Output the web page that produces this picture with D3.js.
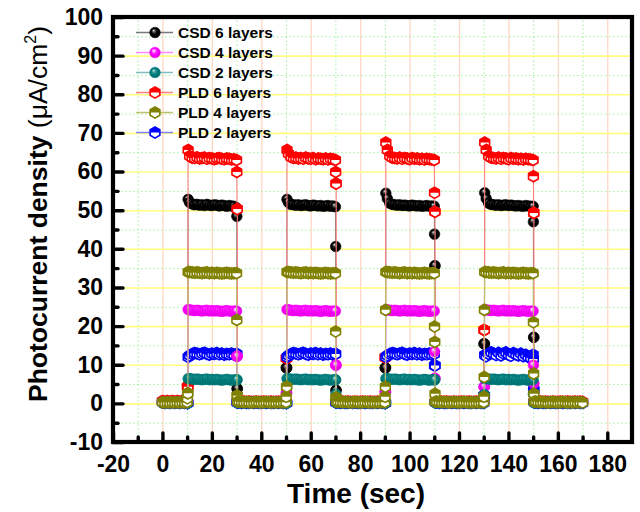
<!DOCTYPE html>
<html>
<head>
<meta charset="utf-8">
<script src="https://cdn.jsdelivr.net/npm/d3@7"></script>
<style>
  html, body { margin: 0; padding: 0; background: #ffffff; }
  svg { display: block; }
  text { font-family: "Liberation Sans", Arial, Helvetica, sans-serif; }
</style>
</head>
<body>
<svg id="chart" width="640" height="512"></svg>
<script>
// Sampling times (s): light switched on at 10, 50, 90, 130 s and off at 30, 70, 110, 150 s.
const time = [
  0,1,2,3,4,5,6,7,8,9,
  10,10.1,10.2,10.3,10.4,
  11,12,13,14,15,16,17,18,19,20,21,22,23,24,25,26,27,28,29,
  30,30.1,30.2,30.3,30.4,
  31,32,33,34,35,36,37,38,39,40,41,42,43,44,45,46,47,48,49,
  50,50.1,50.2,50.3,50.4,
  51,52,53,54,55,56,57,58,59,60,61,62,63,64,65,66,67,68,69,
  70,70.1,70.2,70.3,70.4,
  71,72,73,74,75,76,77,78,79,80,81,82,83,84,85,86,87,88,89,
  90,90.1,90.2,90.3,90.4,
  91,92,93,94,95,96,97,98,99,100,101,102,103,104,105,106,107,108,109,
  110,110.1,110.2,110.3,110.4,
  111,112,113,114,115,116,117,118,119,120,121,122,123,124,125,126,127,128,129,
  130,130.1,130.2,130.3,130.4,
  131,132,133,134,135,136,137,138,139,140,141,142,143,144,145,146,147,148,149,
  150,150.1,150.2,150.3,150.4,
  151,152,153,154,155,156,157,158,159,160,161,162,163,164,165,166,167,168,169,170
];

// Photocurrent density (µA/cm²) for each film.
const csd6 = [
  0.4,0.3,0.4,0.3,0.4,0.3,0.4,0.3,0.4,0.3,
  0.4,2.0,4.6,4.6,52.8,
  52.0,51.6,51.4,51.5,51.3,51.4,51.2,51.5,51.3,51.2,51.4,51.3,51.1,51.3,51.2,51.0,51.2,51.1,51.0,
  50.6,48.4,3.8,3.8,0.5,
  0.4,0.3,0.3,0.2,0.3,0.2,0.2,0.3,0.2,0.2,0.3,0.2,0.2,0.3,0.2,0.2,0.3,0.2,0.3,
  0.3,9.2,9.2,9.2,52.8,
  52.0,51.5,51.4,51.3,51.4,51.2,51.3,51.4,51.2,51.1,51.3,51.2,51.1,51.2,51.0,51.1,51.2,51.0,51.1,
  50.9,40.6,3.4,3.4,0.5,
  0.4,0.3,0.3,0.2,0.3,0.2,0.2,0.3,0.2,0.2,0.3,0.2,0.2,0.3,0.2,0.2,0.3,0.2,0.3,
  0.3,9.2,9.2,9.2,54.4,
  53.0,51.8,51.5,51.4,51.3,51.4,51.2,51.3,51.2,51.1,51.3,51.2,51.1,51.2,51.0,51.1,51.2,51.0,51.1,
  51.0,43.8,35.6,35.6,0.5,
  0.4,0.3,0.3,0.2,0.3,0.2,0.2,0.3,0.2,0.2,0.3,0.2,0.2,0.3,0.2,0.2,0.3,0.2,0.3,
  0.3,15.4,15.4,15.4,54.5,
  53.0,51.8,51.5,51.4,51.3,51.4,51.2,51.3,51.4,51.2,51.3,51.2,51.1,51.2,51.1,51.0,51.2,51.1,51.0,
  51.0,47.0,17.1,17.1,0.5,
  0.4,0.3,0.3,0.2,0.3,0.2,0.2,0.3,0.2,0.2,0.3,0.2,0.2,0.3,0.2,0.2,0.3,0.2,0.3,0.2
];

const csd4 = [
  0.2,0.3,0.2,0.3,0.2,0.3,0.2,0.3,0.2,0.3,
  0.2,0.2,0.2,0.2,24.3,
  24.2,24.1,24.0,24.1,24.0,23.9,24.0,24.1,23.9,24.0,23.9,24.0,23.9,23.8,23.9,24.0,23.9,23.8,23.9,
  23.9,12.2,12.2,12.2,0.3,
  0.3,0.2,0.3,0.2,0.2,0.3,0.2,0.3,0.2,0.2,0.3,0.2,0.3,0.2,0.2,0.3,0.2,0.3,0.2,
  0.2,2.7,2.7,2.7,24.3,
  24.2,24.1,24.0,24.1,24.0,23.9,24.0,24.1,23.9,24.0,23.9,24.0,23.9,23.8,23.9,24.0,23.9,23.8,23.9,
  23.9,9.9,9.9,9.9,0.3,
  0.3,0.2,0.3,0.2,0.2,0.3,0.2,0.3,0.2,0.2,0.3,0.2,0.3,0.2,0.2,0.3,0.2,0.3,0.2,
  0.2,3.0,3.0,3.0,24.2,
  24.2,24.1,24.0,24.1,24.0,23.9,24.0,24.1,23.9,24.0,23.9,24.0,23.9,23.8,23.9,24.0,23.9,23.8,23.9,
  23.9,13.4,6.5,6.5,0.3,
  0.3,0.2,0.3,0.2,0.2,0.3,0.2,0.3,0.2,0.2,0.3,0.2,0.3,0.2,0.2,0.3,0.2,0.3,0.2,
  0.2,4.3,4.3,4.3,24.3,
  24.2,24.1,24.0,24.1,24.0,23.9,24.0,24.1,23.9,24.0,23.9,24.0,23.9,23.8,23.9,24.0,23.9,23.8,23.9,
  23.9,9.9,5.2,5.2,0.3,
  0.3,0.2,0.3,0.2,0.2,0.3,0.2,0.3,0.2,0.2,0.3,0.2,0.3,0.2,0.2,0.3,0.2,0.3,0.2,0.2
];

const csd2 = [
  0.1,0.2,0.1,0.2,0.1,0.2,0.1,0.2,0.1,0.2,
  0.1,0.1,0.1,0.1,6.4,
  6.4,6.3,6.2,6.3,6.2,6.1,6.2,6.3,6.1,6.2,6.1,6.2,6.1,6.0,6.1,6.2,6.1,6.0,6.1,
  6.1,6.1,6.1,0.2,0.2,
  0.2,0.1,0.2,0.1,0.1,0.2,0.1,0.2,0.1,0.1,0.2,0.1,0.2,0.1,0.1,0.2,0.1,0.2,0.1,
  0.1,0.1,0.1,0.1,6.4,
  6.4,6.3,6.2,6.3,6.2,6.1,6.2,6.3,6.1,6.2,6.1,6.2,6.1,6.0,6.1,6.2,6.1,6.0,6.1,
  6.1,6.1,2.4,0.2,0.2,
  0.2,0.1,0.2,0.1,0.1,0.2,0.1,0.2,0.1,0.1,0.2,0.1,0.2,0.1,0.1,0.2,0.1,0.2,0.1,
  0.1,0.1,0.1,0.1,6.4,
  6.4,6.3,6.2,6.3,6.2,6.1,6.2,6.3,6.1,6.2,6.1,6.2,6.1,6.0,6.1,6.2,6.1,6.0,6.1,
  6.1,6.1,6.1,0.2,0.2,
  0.2,0.1,0.2,0.1,0.1,0.2,0.1,0.2,0.1,0.1,0.2,0.1,0.2,0.1,0.1,0.2,0.1,0.2,0.1,
  0.1,2.2,2.2,2.2,6.4,
  6.4,6.3,6.2,6.3,6.2,6.1,6.2,6.3,6.1,6.2,6.1,6.2,6.1,6.0,6.1,6.2,6.1,6.0,6.1,
  6.1,2.4,2.4,0.2,0.2,
  0.2,0.1,0.2,0.1,0.1,0.2,0.1,0.2,0.1,0.1,0.2,0.1,0.2,0.1,0.1,0.2,0.1,0.2,0.1,0.1
];

const pld6 = [
  0.6,0.5,0.6,0.5,0.6,0.5,0.6,0.5,0.6,0.5,
  0.5,4.3,4.3,4.3,65.6,
  64.0,63.6,63.5,63.7,63.4,63.5,63.6,63.3,63.5,63.4,63.2,63.4,63.5,63.3,63.2,63.4,63.3,63.1,63.2,
  63.0,59.9,50.3,50.3,0.5,
  0.6,0.5,0.5,0.4,0.5,0.4,0.4,0.5,0.4,0.4,0.5,0.4,0.4,0.5,0.4,0.4,0.5,0.4,0.5,
  0.5,11.7,11.7,11.7,65.6,
  64.6,63.8,63.5,63.6,63.4,63.5,63.3,63.6,63.4,63.3,63.5,63.2,63.4,63.3,63.2,63.4,63.1,63.3,63.2,
  63.0,59.9,56.9,56.9,0.5,
  0.6,0.5,0.5,0.4,0.5,0.4,0.4,0.5,0.4,0.4,0.5,0.4,0.4,0.5,0.4,0.4,0.5,0.4,0.5,
  0.5,11.9,11.9,11.9,67.5,
  65.6,64.0,63.6,63.5,63.4,63.6,63.3,63.5,63.4,63.2,63.5,63.3,63.4,63.2,63.3,63.1,63.3,63.2,63.1,
  63.0,54.5,49.6,49.6,0.5,
  0.6,0.5,0.5,0.4,0.5,0.4,0.4,0.5,0.4,0.4,0.5,0.4,0.4,0.5,0.4,0.4,0.5,0.4,0.5,
  0.5,19.0,19.0,19.0,67.5,
  65.6,64.0,63.6,63.5,63.4,63.6,63.3,63.5,63.4,63.2,63.5,63.3,63.4,63.2,63.3,63.1,63.3,63.2,63.1,
  63.0,58.8,49.3,49.3,0.5,
  0.6,0.5,0.5,0.4,0.5,0.4,0.4,0.5,0.4,0.4,0.5,0.4,0.4,0.5,0.4,0.4,0.5,0.4,0.5,0.4
];

const pld4 = [
  0.3,0.2,0.3,0.2,0.3,0.2,0.3,0.2,0.3,0.2,
  0.3,1.3,2.6,2.6,34.0,
  34.0,33.9,33.8,33.9,33.8,33.7,33.8,33.9,33.7,33.8,33.7,33.8,33.7,33.6,33.7,33.8,33.7,33.6,33.7,
  33.7,21.6,2.0,2.0,0.4,
  0.5,0.4,0.3,0.4,0.3,0.2,0.3,0.4,0.3,0.2,0.3,0.4,0.3,0.2,0.3,0.2,0.3,0.2,0.3,
  0.3,1.7,4.3,4.3,34.0,
  34.0,33.9,33.8,33.9,33.8,33.7,33.8,33.9,33.7,33.8,33.7,33.8,33.7,33.6,33.7,33.8,33.7,33.6,33.7,
  33.7,18.6,1.5,1.5,0.4,
  0.5,0.4,0.3,0.4,0.3,0.2,0.3,0.4,0.3,0.2,0.3,0.4,0.3,0.2,0.3,0.2,0.3,0.2,0.3,
  0.3,1.7,4.3,24.2,34.0,
  34.0,33.9,33.8,33.9,33.8,33.7,33.8,33.9,33.7,33.8,33.7,33.8,33.7,33.6,33.7,33.8,33.7,33.6,33.7,
  33.7,19.9,15.9,2.5,0.4,
  0.5,0.4,0.3,0.4,0.3,0.2,0.3,0.4,0.3,0.2,0.3,0.4,0.3,0.2,0.3,0.2,0.3,0.2,0.3,
  0.3,1.7,6.8,24.2,34.0,
  34.0,33.9,33.8,33.9,33.8,33.7,33.8,33.9,33.7,33.8,33.7,33.8,33.7,33.6,33.7,33.8,33.7,33.6,33.7,
  33.7,21.0,7.7,2.5,0.4,
  0.5,0.4,0.3,0.4,0.3,0.2,0.3,0.4,0.3,0.2,0.3,0.4,0.3,0.2,0.3,0.2,0.3,0.2,0.3,0.2
];

const pld2 = [
  0.2,0.1,0.2,0.1,0.2,0.1,0.2,0.1,0.2,0.1,
  0.1,0.1,0.1,0.1,12.0,
  12.4,12.8,13.0,12.9,12.7,12.9,13.1,12.8,12.6,12.9,12.8,13.0,12.7,12.9,12.6,12.8,12.7,12.9,12.6,
  12.8,12.8,0.2,0.2,0.2,
  0.2,0.1,0.2,0.1,0.1,0.2,0.1,0.2,0.1,0.1,0.2,0.1,0.2,0.1,0.1,0.2,0.1,0.2,0.1,
  0.1,0.1,0.1,0.1,12.0,
  12.4,12.8,13.0,12.9,12.7,12.9,13.1,12.8,12.6,12.9,12.8,13.0,12.7,12.9,12.6,12.8,12.7,12.9,12.6,
  12.8,12.8,0.2,0.2,0.2,
  0.2,0.1,0.2,0.1,0.1,0.2,0.1,0.2,0.1,0.1,0.2,0.1,0.2,0.1,0.1,0.2,0.1,0.2,0.1,
  0.1,0.1,0.1,0.1,12.0,
  12.4,12.8,13.0,12.9,12.7,12.9,13.1,12.8,12.6,12.9,12.8,13.0,12.7,12.9,12.6,12.8,12.7,12.9,12.6,
  12.8,9.8,9.8,9.8,0.2,
  0.2,0.1,0.2,0.1,0.1,0.2,0.1,0.2,0.1,0.1,0.2,0.1,0.2,0.1,0.1,0.2,0.1,0.2,0.1,
  0.1,2.0,2.0,2.0,12.5,
  12.2,12.8,13.2,12.9,12.5,13.1,12.4,12.9,13.2,12.6,12.3,13.0,12.7,12.4,12.9,12.2,12.6,12.0,11.8,
  12.6,11.5,3.5,3.5,0.2,
  0.2,0.1,0.2,0.1,0.1,0.2,0.1,0.2,0.1,0.1,0.2,0.1,0.2,0.1,0.1,0.2,0.1,0.2,0.1,0.1
];

const seriesNames = ["CSD 6 layers", "CSD 4 layers", "CSD 2 layers", "PLD 6 layers", "PLD 4 layers", "PLD 2 layers"];
const seriesValues = [csd6, csd4, csd2, pld6, pld4, pld2];

const xMajorTicks = [-20, 0, 20, 40, 60, 80, 100, 120, 140, 160, 180];
const xMinorTicks = [-10, 10, 30, 50, 70, 90, 110, 130, 150, 170];
const yMajorTicks = [-10, 0, 10, 20, 30, 40, 50, 60, 70, 80, 90, 100];
const yMinorTicks = [-5, 5, 15, 25, 35, 45, 55, 65, 75, 85, 95];

// ---- styling ----
const seriesStyle = [
  { color: "#000000", line: "#7a7a7a", marker: "sphere", grad: ["#ffffff", "#6a6a6a", "#000000", "#000000"] },
  { color: "#ff00ff", line: "#ff8cff", marker: "sphere", grad: ["#ffffff", "#ff9cff", "#ff00ff", "#d400d4"] },
  { color: "#008080", line: "#7fbfbf", marker: "sphere", grad: ["#e8ffff", "#5fb0b0", "#008080", "#006464"] },
  { color: "#ff0000", line: "#ff8080", marker: "hex" },
  { color: "#808000", line: "#c0c070", marker: "hex" },
  { color: "#0000ff", line: "#8080ff", marker: "hex" }
];
// drawing order of the series (later ones on top)
const drawOrder = [0, 3, 5, 1, 2, 4];

const L = 113, R = 632, T = 17, B = 442;

const svg = d3.select("#chart");
const x = d3.scaleLinear().domain([-20, 190]).range([L, R]);
const y = d3.scaleLinear().domain([-10, 100]).range([B, T]);

const defs = svg.append("defs");
defs.append("clipPath").attr("id", "plotClip")
  .append("rect").attr("x", L).attr("y", T).attr("width", R - L).attr("height", B - T);

seriesStyle.forEach((s, i) => {
  if (s.marker !== "sphere") return;
  const g = defs.append("radialGradient").attr("id", "sph" + i)
    .attr("cx", "50%").attr("cy", "50%").attr("r", "55%")
    .attr("fx", "36%").attr("fy", "30%");
  [[0, s.grad[0]], [0.18, s.grad[1]], [0.5, s.grad[2]], [1, s.grad[3]]].forEach(([o, c]) =>
    g.append("stop").attr("offset", o).attr("stop-color", c));
});

// ---- grid ----
const grid = svg.append("g");
grid.append("g").attr("transform", `translate(0,${B})`)
  .call(d3.axisBottom(x).tickValues(xMajorTicks.filter(v => v > -20)).tickSize(-(B - T)).tickFormat(""))
  .call(g => g.select(".domain").remove())
  .call(g => g.selectAll("line").attr("stroke", "#ffd6c6").attr("stroke-width", 1.3));
grid.append("g").attr("transform", `translate(0,${B})`)
  .call(d3.axisBottom(x).tickValues(xMinorTicks).tickSize(-(B - T)).tickFormat(""))
  .call(g => g.select(".domain").remove())
  .call(g => g.selectAll("line").attr("stroke", "#9cf29c").attr("stroke-width", 1)
    .attr("stroke-dasharray", "1.5,2.5"));
grid.append("g").attr("transform", `translate(${L},0)`)
  .call(d3.axisLeft(y).tickValues(yMinorTicks).tickSize(-(R - L)).tickFormat(""))
  .call(g => g.select(".domain").remove())
  .call(g => g.selectAll("line").attr("stroke", "#9cf29c").attr("stroke-width", 1)
    .attr("stroke-dasharray", "1.5,2.5"));
grid.append("g").attr("transform", `translate(${L},0)`)
  .call(d3.axisLeft(y).tickValues(yMajorTicks.filter(v => v > -10 && v < 100)).tickSize(-(R - L)).tickFormat(""))
  .call(g => g.select(".domain").remove())
  .call(g => g.selectAll("line").attr("stroke", "#ffff80").attr("stroke-width", 1.6));

// ---- markers ----
const hexR = 5.6, hexW = hexR * 0.866;
const hexOutline = `M0,${-hexR}L${hexW},${-hexR / 2}L${hexW},${hexR / 2}L0,${hexR}L${-hexW},${hexR / 2}L${-hexW},${-hexR / 2}Z`;
const hexTop = `M${-hexW},0L${-hexW},${-hexR / 2}L0,${-hexR}L${hexW},${-hexR / 2}L${hexW},0Z`;

function drawMarker(sel, i) {
  const s = seriesStyle[i];
  if (s.marker === "sphere") {
    sel.append("circle").attr("r", 5.3).attr("fill", `url(#sph${i})`)
      .attr("stroke", s.color).attr("stroke-width", 0.6);
  } else {
    sel.append("path").attr("d", hexOutline).attr("fill", "#ffffff");
    sel.append("path").attr("d", hexTop).attr("fill", s.color);
    sel.append("path").attr("d", hexOutline).attr("fill", "none")
      .attr("stroke", s.color).attr("stroke-width", 1.6);
  }
}

// ---- data ----
const plot = svg.append("g").attr("clip-path", "url(#plotClip)");
const line = d3.line().x(d => x(d[0])).y(d => y(d[1]));

drawOrder.forEach(i => {
  const pts = time.map((t, k) => [t, seriesValues[i][k]]);
  const g = plot.append("g");
  g.append("path").datum(pts).attr("d", line)
    .attr("fill", "none").attr("stroke", seriesStyle[i].line).attr("stroke-width", 1.1);
  g.selectAll("g.m").data(pts).join("g").attr("class", "m")
    .attr("transform", d => `translate(${x(d[0])},${y(d[1])})`)
    .each(function () { drawMarker(d3.select(this), i); });
});

// ---- axes ----
const fontTick = 23;
const plainNum = d => String(d);   // hyphen-minus, as printed on the axes
const xAxisMajor = svg.append("g").attr("transform", `translate(0,${B})`)
  .call(d3.axisBottom(x).tickValues(xMajorTicks).tickFormat(plainNum)
    .tickSizeInner(-9).tickSizeOuter(0).tickPadding(14));
const xAxisMinor = svg.append("g").attr("transform", `translate(0,${B})`)
  .call(d3.axisBottom(x).tickValues(xMinorTicks).tickSizeInner(-5).tickSizeOuter(0).tickFormat(""));
const yAxisMajor = svg.append("g").attr("transform", `translate(${L},0)`)
  .call(d3.axisLeft(y).tickValues(yMajorTicks).tickFormat(plainNum)
    .tickSizeInner(-10).tickSizeOuter(0).tickPadding(10));
const yAxisMinor = svg.append("g").attr("transform", `translate(${L},0)`)
  .call(d3.axisLeft(y).tickValues(yMinorTicks).tickSizeInner(-5).tickSizeOuter(0).tickFormat(""));

[xAxisMajor, xAxisMinor, yAxisMajor, yAxisMinor].forEach(a => {
  a.select(".domain").remove();
  a.selectAll(".tick line").attr("stroke", "#000").attr("stroke-width", 3.4).attr("stroke-linecap", "round");
  a.selectAll(".tick text").attr("fill", "#000").attr("font-size", fontTick).attr("font-weight", "bold")
    .attr("font-family", '"Liberation Sans", Arial, sans-serif');
});

// frame
svg.append("rect").attr("x", L).attr("y", T).attr("width", R - L).attr("height", B - T)
  .attr("fill", "none").attr("stroke", "#000").attr("stroke-width", 4.2);

// ---- axis titles ----
svg.append("text").attr("x", 356).attr("y", 503).attr("text-anchor", "middle")
  .attr("font-size", 28).attr("font-weight", "bold").attr("fill", "#000").text("Time (sec)");

const yTitle = svg.append("text").attr("transform", "translate(47,214) rotate(-90)")
  .attr("text-anchor", "middle").attr("font-size", 26.5).attr("fill", "#000");
yTitle.append("tspan").attr("font-weight", "bold").text("Photocurrent density ");
yTitle.append("tspan").text("(\u03bcA/cm");
yTitle.append("tspan").attr("font-size", 16).attr("dy", -11).text("2");
yTitle.append("tspan").attr("dy", 11).text(")");

// ---- legend ----
const legend = svg.append("g");
seriesNames.forEach((name, i) => {
  const ly = 32.5 + i * 20;
  const row = legend.append("g");
  row.append("line").attr("x1", 136).attr("x2", 173).attr("y1", ly).attr("y2", ly)
    .attr("stroke", seriesStyle[i].line).attr("stroke-width", 1.3);
  drawMarker(row.append("g").attr("transform", `translate(155,${ly})`), i);
  row.append("text").attr("x", 178).attr("y", ly).attr("dy", "0.36em")
    .attr("font-size", 15.5).attr("font-weight", "bold").attr("fill", "#000").text(name);
});
</script>
</body>
</html>
